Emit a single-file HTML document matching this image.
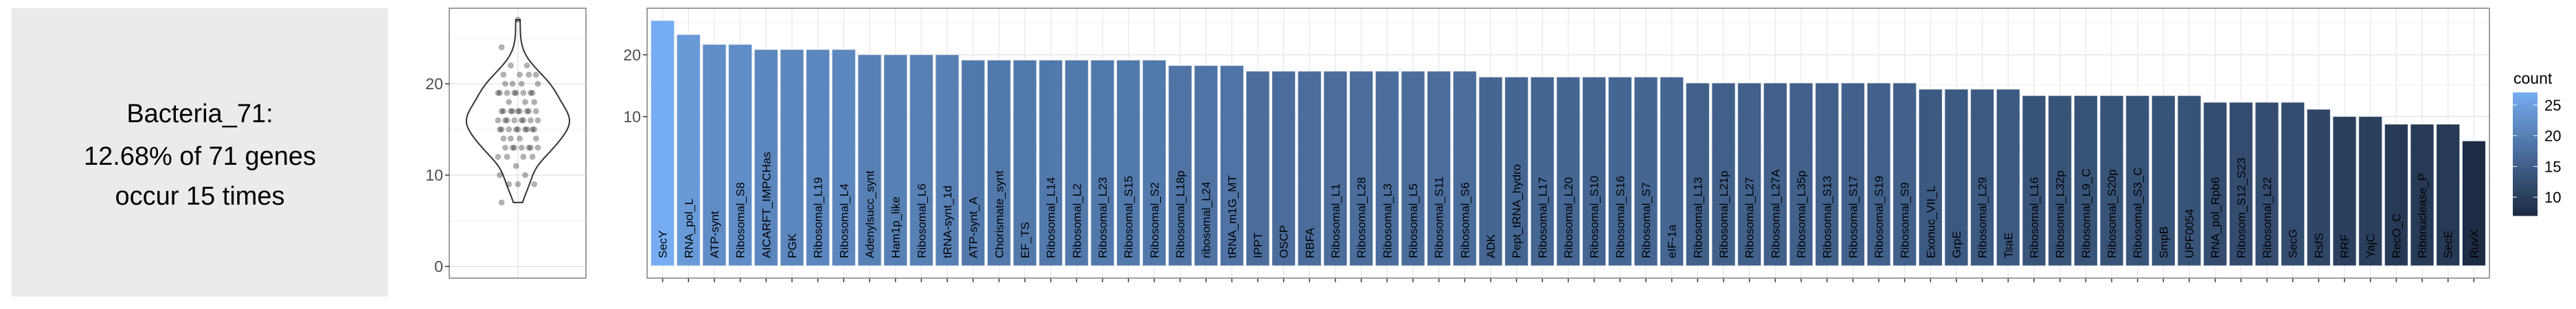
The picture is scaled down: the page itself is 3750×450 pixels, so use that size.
<!DOCTYPE html>
<html><head><meta charset="utf-8">
<style>
html,body{margin:0;padding:0;background:#fff;}
svg{display:block;font-family:"Liberation Sans",Arial,sans-serif;}
</style></head>
<body>
<svg id="chart" width="3750" height="450" viewBox="0 0 3750 450" xmlns="http://www.w3.org/2000/svg">
  <g>
    <rect x="17" y="12" width="548" height="420" fill="#EBEBEB"/>
    <text x="291" y="178" font-size="38" text-anchor="middle" fill="#000">Bacteria_71:</text>
    <text x="291" y="240" font-size="38" text-anchor="middle" fill="#000">12.68% of 71 genes</text>
    <text x="291" y="298" font-size="38" text-anchor="middle" fill="#000">occur 15 times</text>
  </g>
  <g id="violin"></g>
  <g id="bars"></g>
  <g id="legend"></g>
</svg>
<script>
const categories = ["SecY","RNA_pol_L","ATP-synt","Ribosomal_S8","AICARFT_IMPCHas","PGK","Ribosomal_L19","Ribosomal_L4","Adenylsucc_synt","Ham1p_like","Ribosomal_L6","tRNA-synt_1d","ATP-synt_A","Chorismate_synt","EF_TS","Ribosomal_L14","Ribosomal_L2","Ribosomal_L23","Ribosomal_S15","Ribosomal_S2","Ribosomal_L18p","ribosomal_L24","tRNA_m1G_MT","IPPT","OSCP","RBFA","Ribosomal_L1","Ribosomal_L28","Ribosomal_L3","Ribosomal_L5","Ribosomal_S11","Ribosomal_S6","ADK","Pept_tRNA_hydro","Ribosomal_L17","Ribosomal_L20","Ribosomal_S10","Ribosomal_S16","Ribosomal_S7","eIF-1a","Ribosomal_L13","Ribosomal_L21p","Ribosomal_L27","Ribosomal_L27A","Ribosomal_L35p","Ribosomal_S13","Ribosomal_S17","Ribosomal_S19","Ribosomal_S9","Exonuc_VII_L","GrpE","Ribosomal_L29","TsaE","Ribosomal_L16","Ribosomal_L32p","Ribosomal_L9_C","Ribosomal_S20p","Ribosomal_S3_C","SmpB","UPF0054","RNA_pol_Rpb6","Ribosom_S12_S23","Ribosomal_L22","SecG","RsfS","RRF","YajC","RecO_C","Ribonuclease_P","SecE","RuvX"];
const counts = [27,24,22,22,21,21,21,21,20,20,20,20,19,19,19,19,19,19,19,19,18,18,18,17,17,17,17,17,17,17,17,17,16,16,16,16,16,16,16,16,15,15,15,15,15,15,15,15,15,14,14,14,14,13,13,13,13,13,13,13,12,12,12,12,11,10,10,9,9,9,7];
const barTicks = [10,20];
const barMinor = [3.47,6.27,14.65,26.55];
const violinTicks = [0,10,20];
const violinMinor = [5,15,25];
const legendTicks = [10,15,20,25];
const colorDomain = [7,27];

const NS="http://www.w3.org/2000/svg";
function mk(parent,tag,attrs){const e=document.createElementNS(NS,tag);for(const k in attrs)e.setAttribute(k,attrs[k]);parent.appendChild(e);return e;}
function colorOf(v){
  const t=Math.max(0,Math.min(1,(v-colorDomain[0])/(colorDomain[1]-colorDomain[0])));
  const a=[0x1d,0x2c,0x44], b=[0x76,0xad,0xf2];
  const c=a.map((x,i)=>Math.round(x+(b[i]-x)*t));
  return `rgb(${c[0]},${c[1]},${c[2]})`;
}

/* ---------- bar chart ---------- */
const bars=document.getElementById('bars');
const bx0=942, bx1=3624, by0=12, by1=405;
const yBase=387, pxPerSqrt=68.7;
const yB=v=>yBase-Math.sqrt(v)*pxPerSqrt;
const step=(bx1-bx0)/(categories.length+0.2);
const xB=i=>bx0+step*(0.6+i);
mk(bars,'rect',{x:bx0,y:by0,width:bx1-bx0,height:by1-by0,fill:'#fff'});
barMinor.forEach(v=>{const l=mk(bars,'line',{x1:bx0,x2:bx1,y1:yB(v),y2:yB(v),stroke:'#F2F2F2','stroke-width':1.2});

});
barTicks.forEach(v=>{const l=mk(bars,'line',{x1:bx0,x2:bx1,y1:yB(v),y2:yB(v),stroke:'#EBEBEB','stroke-width':2});

});
categories.forEach((c,i)=>{const l=mk(bars,'line',{x1:xB(i),x2:xB(i),y1:by0,y2:by1,stroke:'#EBEBEB','stroke-width':1.5});

});
const bw=step*0.9;
categories.forEach((c,i)=>{
  const v=counts[i];
  const r=mk(bars,'rect',{x:xB(i)-bw/2,y:yB(v),width:bw,height:yBase-yB(v),fill:colorOf(v),stroke:'#dfe6ef','stroke-width':0.8});
  
  
  const t=mk(bars,'text',{x:0,y:0,transform:`translate(${xB(i)+6},376) rotate(-90)`,'font-size':17,fill:'#000'});
  t.textContent=c;
  
  
  const tk=mk(bars,'line',{x1:xB(i),x2:xB(i),y1:by1,y2:by1+6,stroke:'#333','stroke-width':1.5});
  
  
});
const bb=mk(bars,'rect',{x:bx0,y:by0,width:bx1-bx0,height:by1-by0,fill:'none',stroke:'#7F7F7F','stroke-width':1.5});


barTicks.forEach(v=>{
  const tk=mk(bars,'line',{x1:bx0-6,x2:bx0,y1:yB(v),y2:yB(v),stroke:'#333','stroke-width':1.5});
  
  
  const t=mk(bars,'text',{x:bx0-9,y:yB(v)+8,'font-size':23,'text-anchor':'end',fill:'#4D4D4D'});
  t.textContent=v;
  
  
});

/* ---------- violin ---------- */
const vg=document.getElementById('violin');
const vx0=654, vx1=853, vy0=12, vy1=405, vcx=754;
const yV=v=>388-v*13.3;
mk(vg,'rect',{x:vx0,y:vy0,width:vx1-vx0,height:vy1-vy0,fill:'#fff'});
violinMinor.forEach(v=>{const l=mk(vg,'line',{x1:vx0,x2:vx1,y1:yV(v),y2:yV(v),stroke:'#F2F2F2','stroke-width':1.2});

});
violinTicks.forEach(v=>{const l=mk(vg,'line',{x1:vx0,x2:vx1,y1:yV(v),y2:yV(v),stroke:'#EBEBEB','stroke-width':2});

});
const vgl=mk(vg,'line',{x1:vcx,x2:vcx,y1:vy0,y2:vy1,stroke:'#EBEBEB','stroke-width':2});


// KDE
const n=counts.length, mean=counts.reduce((a,b)=>a+b,0)/n;
const sd=Math.sqrt(counts.reduce((a,b)=>a+(b-mean)**2,0)/(n-1));
const sorted=[...counts].sort((a,b)=>a-b);
const q=p=>{const h=(n-1)*p,lo=Math.floor(h);return sorted[lo]+(sorted[Math.min(lo+1,n-1)]-sorted[lo])*(h-lo);};
const bwK=0.9*Math.min(sd,(q(0.75)-q(0.25))/1.34)*Math.pow(n,-0.2);
const dens=y=>counts.reduce((a,c)=>a+Math.exp(-0.5*((y-c)/bwK)**2),0);
const mn=Math.min(...counts), mx=Math.max(...counts);
const ys=[];for(let k=0;k<=200;k++)ys.push(mn+(mx-mn)*k/200);
const ds=ys.map(dens); const dmax=Math.max(...ds);
const hw=d=>d/dmax*75;
let p='';
ys.forEach((y,k)=>{p+=(k?'L':'M')+(vcx+hw(ds[k])).toFixed(1)+','+yV(y).toFixed(1);});
for(let k=ys.length-1;k>=0;k--)p+='L'+(vcx-hw(ds[k])).toFixed(1)+','+yV(ys[k]).toFixed(1);
p+='Z';
const vp=mk(vg,'path',{d:p,fill:'none',stroke:'#333','stroke-width':2});


counts.forEach((c,i)=>{
  const j=(((i*37+11)%23)/22-0.5)*58;
  const dot=mk(vg,'circle',{cx:vcx+j,cy:yV(c),r:4,fill:'rgba(0,0,0,0.3)',stroke:'rgba(0,0,0,0.15)'});
  
  
});
const vb=mk(vg,'rect',{x:vx0,y:vy0,width:vx1-vx0,height:vy1-vy0,fill:'none',stroke:'#7F7F7F','stroke-width':1.5});


violinTicks.forEach(v=>{
  const tk=mk(vg,'line',{x1:vx0-6,x2:vx0,y1:yV(v),y2:yV(v),stroke:'#333','stroke-width':1.5});
  
  
  const t=mk(vg,'text',{x:vx0-9,y:yV(v)+8,'font-size':23,'text-anchor':'end',fill:'#4D4D4D'});
  t.textContent=v;
  
  
});

/* ---------- legend ---------- */
const lg=document.getElementById('legend');
const lx=3658, lw=36, ly0=135, ly1=314;
const yL=v=>ly1-(v-colorDomain[0])/(colorDomain[1]-colorDomain[0])*(ly1-ly0);
const lt=mk(lg,'text',{x:3659,y:122,'font-size':23,fill:'#000'});
lt.textContent='count';


for(let k=0;k<60;k++){
  const v0=colorDomain[0]+(colorDomain[1]-colorDomain[0])*k/60;
  const r=mk(lg,'rect',{x:lx,y:yL(v0+(colorDomain[1]-colorDomain[0])/60)-0.5,width:lw,height:(ly1-ly0)/60+1,fill:colorOf(v0)});
  
  
}
legendTicks.forEach(v=>{
  const a=mk(lg,'line',{x1:lx,x2:lx+6,y1:yL(v),y2:yL(v),stroke:'#fff','stroke-width':1});
  
  
  const b=mk(lg,'line',{x1:lx+lw-6,x2:lx+lw,y1:yL(v),y2:yL(v),stroke:'#fff','stroke-width':1});
  
  
  const t=mk(lg,'text',{x:lx+lw+10,y:yL(v)+8,'font-size':22,fill:'#000'});
  t.textContent=v;
  
  
});
</script>
</body></html>
